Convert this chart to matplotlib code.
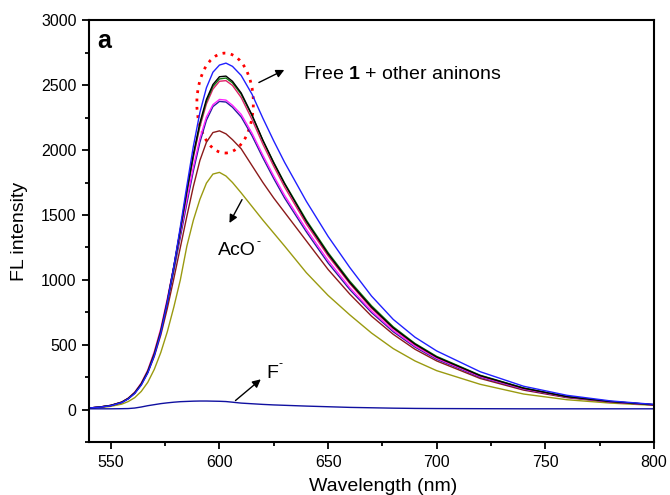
import numpy as np
import matplotlib.pyplot as plt
from matplotlib.patches import Ellipse
from matplotlib.ticker import MultipleLocator
from matplotlib.transforms import offset_copy

plt.rcParams['font.family'] = ['Liberation Sans', 'DejaVu Sans']
plt.rcParams['mathtext.fontset'] = 'custom'
plt.rcParams['mathtext.rm'] = 'Liberation Sans'
plt.rcParams['mathtext.bf'] = 'Liberation Sans:bold'

# wavelengths (nm)
wl = [540, 545, 550, 555, 558, 561, 564, 567, 570, 573, 576, 579, 582, 585, 588,
      591, 594, 597, 600, 603, 606, 610, 615, 620, 625, 630, 640, 650, 660, 670,
      680, 690, 700, 720, 740, 760, 780, 800]

# FL intensity
blue = [12, 19, 30, 54, 82, 124, 188, 282, 415, 590, 825, 1105, 1410, 1725, 2030,
        2290, 2480, 2600, 2655, 2670, 2645, 2575, 2430, 2245, 2070, 1905, 1605, 1335, 1095, 875,
        695, 558, 452, 292, 180, 110, 67, 40]
black = [12, 20, 32, 56, 85, 128, 195, 290, 425, 600, 830, 1100, 1390, 1690, 1970,
         2210, 2390, 2505, 2565, 2570, 2530, 2440, 2270, 2075, 1900, 1740, 1450, 1200, 980, 790,
         630, 505, 405, 262, 165, 100, 62, 38]
green = [12, 20, 32, 57, 86, 130, 198, 295, 430, 605, 835, 1100, 1385, 1680, 1955,
         2195, 2375, 2490, 2548, 2555, 2518, 2430, 2265, 2075, 1905, 1745, 1460, 1210, 990, 800,
         638, 510, 410, 265, 167, 101, 63, 38]
crimson = [12, 20, 33, 58, 88, 133, 202, 300, 440, 615, 845, 1105, 1385, 1675, 1945,
           2180, 2355, 2470, 2530, 2535, 2498, 2405, 2235, 2045, 1875, 1715, 1430, 1185, 970, 780,
           625, 500, 402, 260, 163, 99, 61, 37]
magenta = [12, 20, 33, 58, 88, 134, 205, 305, 445, 625, 855, 1100, 1360, 1620, 1870,
           2090, 2255, 2350, 2390, 2385, 2345, 2275, 2130, 1960, 1800, 1650, 1390, 1150, 940, 760,
           610, 490, 395, 255, 160, 98, 60, 37]
navy = [12, 19, 31, 55, 85, 128, 196, 292, 425, 600, 825, 1070, 1330, 1590, 1840,
        2060, 2230, 2335, 2375, 2370, 2330, 2255, 2110, 1940, 1780, 1630, 1370, 1130, 925, 748,
        600, 482, 388, 250, 157, 96, 59, 36]
brown = [12, 19, 31, 55, 84, 126, 192, 285, 410, 575, 780, 1010, 1250, 1490, 1720,
         1920, 2060, 2135, 2148, 2125, 2080, 2010, 1880, 1750, 1630, 1520, 1300, 1080, 890, 720,
         580, 465, 375, 240, 150, 92, 58, 36]
aco = [10, 15, 25, 42, 62, 92, 140, 210, 310, 440, 600, 790, 1000, 1260, 1460,
       1620, 1745, 1815, 1828, 1800, 1750, 1670, 1565, 1460, 1360, 1260, 1055, 880, 730, 590,
       470, 375, 300, 195, 120, 76, 50, 33]
fluoride = [6, 6, 6, 7, 8, 12, 20, 30, 38, 46, 52, 57, 61, 63, 65,
            66, 66, 65, 64, 62, 57, 50, 45, 40, 36, 33, 27, 22, 17, 14,
            11, 9, 8, 7, 6, 6, 6, 6]

series = [(aco, '#9a9a10'), (brown, '#8b1a1a'), (navy, '#2a1aa0'), (magenta, '#ff22ff'),
          (crimson, '#e0206a'), (green, '#107a10'), (black, '#000000'), (blue, '#2020ff'),
          (fluoride, '#1010a0')]

fig = plt.figure(figsize=(6.7, 4.95), dpi=100)
ax = fig.add_axes([0.133, 0.107, 0.843, 0.852])

for y, c in series:
    ax.plot(wl, y, color=c, lw=1.0)

ax.set_xlim(540, 800)
ax.set_ylim(-250, 3000)
ax.xaxis.set_major_locator(MultipleLocator(50))
ax.xaxis.set_minor_locator(MultipleLocator(25))
ax.yaxis.set_major_locator(MultipleLocator(500))
ax.yaxis.set_minor_locator(MultipleLocator(250))
ax.tick_params(which='both', direction='out', labelsize=11.5, width=1.3)
ax.tick_params(which='major', length=5, pad=4)
ax.tick_params(which='minor', length=3)
for s in ax.spines.values():
    s.set_linewidth(1.5)

ax.set_xlabel('Wavelength (nm)', fontsize=14)
ax.xaxis.set_label_coords(0.52, -0.085)
ax.set_ylabel('FL intensity', fontsize=14)
ax.yaxis.set_label_coords(-0.108, 0.5)

ax.text(0.015, 0.95, 'a', transform=ax.transAxes, fontsize=18, fontweight='bold',
        va='center', ha='left')

ax.add_patch(Ellipse((602.6, 2362), 26, 770, fill=False, ec='red', ls=(0, (1, 2)), lw=2))

arr = dict(arrowstyle='-|>', color='black', lw=1, mutation_scale=12)
ax.annotate('', xy=(631, 2627), xytext=(617, 2511), arrowprops=arr)
ax.text(638.5, 2584, 'Free $\\mathbf{1}$ + other aninons', fontsize=14, va='center')
ax.annotate('', xy=(604, 1419), xytext=(611, 1637), arrowprops=arr)
ax.annotate('', xy=(620, 247), xytext=(606.4, 56), arrowprops=arr)

# labels with a small superscript hyphen
fig.canvas.draw()
for xt, yt, s in [(599.5, 1226, 'AcO'), (621.5, 280, 'F')]:
    t = ax.text(xt, yt, s, fontsize=14, va='center')
    ext = t.get_window_extent(fig.canvas.get_renderer())
    w = ext.width * 72 / fig.dpi
    ax.text(xt, yt, '-', fontsize=9, va='bottom',
            transform=offset_copy(ax.transData, fig=fig, x=w + 0.5, y=2, units='points'))

fig.savefig('out.png', dpi=100)
